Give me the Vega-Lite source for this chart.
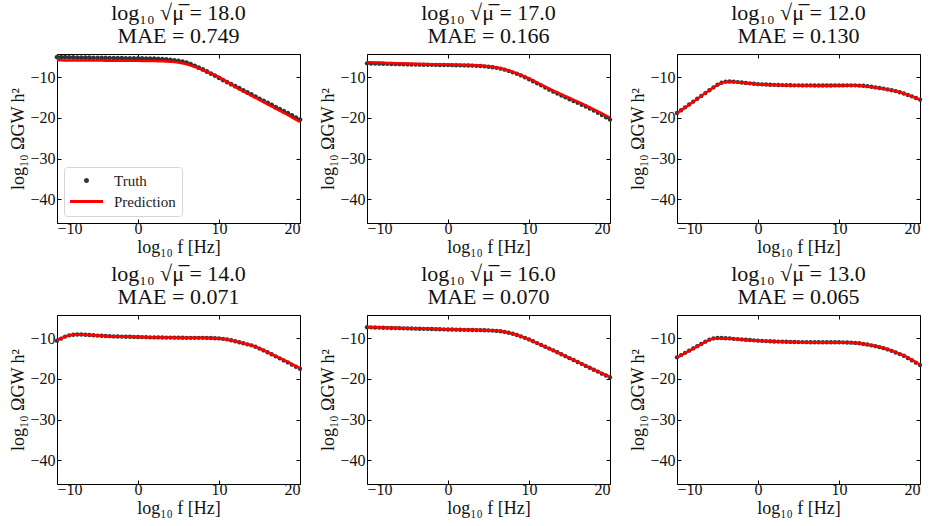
{
  "$schema": "https://vega.github.io/schema/vega-lite/v6.json",
  "background": "white",
  "padding": {"left": 9, "top": 1, "right": 3, "bottom": 5},
  "data": {
    "values": [
      {"p":1,"f":-10,"t":-5.05,"r":-5.85},{"p":1,"f":-9.5,"t":-5.07,"r":-5.86},{"p":1,"f":-9,"t":-5.1,"r":-5.87},{"p":1,"f":-8.5,"t":-5.12,"r":-5.88},{"p":1,"f":-8,"t":-5.15,"r":-5.88},{"p":1,"f":-7.5,"t":-5.17,"r":-5.89},{"p":1,"f":-7,"t":-5.2,"r":-5.9},{"p":1,"f":-6.5,"t":-5.21,"r":-5.9},{"p":1,"f":-6,"t":-5.22,"r":-5.91},{"p":1,"f":-5.5,"t":-5.24,"r":-5.91},{"p":1,"f":-5,"t":-5.25,"r":-5.92},{"p":1,"f":-4.5,"t":-5.27,"r":-5.92},{"p":1,"f":-4,"t":-5.28,"r":-5.93},{"p":1,"f":-3.5,"t":-5.29,"r":-5.93},{"p":1,"f":-3,"t":-5.3,"r":-5.94},{"p":1,"f":-2.5,"t":-5.32,"r":-5.94},{"p":1,"f":-2,"t":-5.33,"r":-5.95},{"p":1,"f":-1.5,"t":-5.35,"r":-5.95},{"p":1,"f":-1,"t":-5.36,"r":-5.96},{"p":1,"f":-0.5,"t":-5.38,"r":-5.97},{"p":1,"f":0,"t":-5.4,"r":-5.98},{"p":1,"f":0.5,"t":-5.41,"r":-5.99},{"p":1,"f":1,"t":-5.43,"r":-6.0},{"p":1,"f":1.5,"t":-5.45,"r":-6.01},{"p":1,"f":2,"t":-5.47,"r":-6.03},{"p":1,"f":2.5,"t":-5.51,"r":-6.05},{"p":1,"f":3,"t":-5.55,"r":-6.08},{"p":1,"f":3.5,"t":-5.62,"r":-6.12},{"p":1,"f":4,"t":-5.72,"r":-6.18},{"p":1,"f":4.5,"t":-5.85,"r":-6.27},{"p":1,"f":5,"t":-6.0,"r":-6.4},{"p":1,"f":5.5,"t":-6.2,"r":-6.57},{"p":1,"f":6,"t":-6.45,"r":-6.8},{"p":1,"f":6.5,"t":-6.8,"r":-7.1},{"p":1,"f":7,"t":-7.2,"r":-7.45},{"p":1,"f":7.5,"t":-7.65,"r":-7.85},{"p":1,"f":8,"t":-8.1,"r":-8.25},{"p":1,"f":8.5,"t":-8.6,"r":-8.65},{"p":1,"f":9,"t":-9.1,"r":-9.05},{"p":1,"f":9.5,"t":-9.6,"r":-9.5},{"p":1,"f":10,"t":-10.15,"r":-10.0},{"p":1,"f":10.5,"t":-10.7,"r":-10.55},{"p":1,"f":11,"t":-11.2,"r":-11.15},{"p":1,"f":11.5,"t":-11.7,"r":-11.75},{"p":1,"f":12,"t":-12.2,"r":-12.35},{"p":1,"f":12.5,"t":-12.7,"r":-12.95},{"p":1,"f":13,"t":-13.25,"r":-13.5},{"p":1,"f":13.5,"t":-13.75,"r":-14.0},{"p":1,"f":14,"t":-14.25,"r":-14.55},{"p":1,"f":14.5,"t":-14.75,"r":-15.05},{"p":1,"f":15,"t":-15.3,"r":-15.6},{"p":1,"f":15.5,"t":-15.8,"r":-16.1},{"p":1,"f":16,"t":-16.3,"r":-16.65},{"p":1,"f":16.5,"t":-16.8,"r":-17.15},{"p":1,"f":17,"t":-17.35,"r":-17.7},{"p":1,"f":17.5,"t":-17.85,"r":-18.2},{"p":1,"f":18,"t":-18.35,"r":-18.75},{"p":1,"f":18.5,"t":-18.85,"r":-19.25},{"p":1,"f":19,"t":-19.4,"r":-19.85},{"p":1,"f":19.5,"t":-19.9,"r":-20.4},{"p":1,"f":20,"t":-20.4,"r":-20.95},

      {"p":2,"f":-10,"t":-6.6,"r":-6.3},{"p":2,"f":-9.5,"t":-6.62,"r":-6.33},{"p":2,"f":-9,"t":-6.65,"r":-6.37},{"p":2,"f":-8.5,"t":-6.67,"r":-6.41},{"p":2,"f":-8,"t":-6.7,"r":-6.45},{"p":2,"f":-7.5,"t":-6.72,"r":-6.49},{"p":2,"f":-7,"t":-6.75,"r":-6.52},{"p":2,"f":-6.5,"t":-6.77,"r":-6.56},{"p":2,"f":-6,"t":-6.8,"r":-6.6},{"p":2,"f":-5.5,"t":-6.82,"r":-6.63},{"p":2,"f":-5,"t":-6.85,"r":-6.66},{"p":2,"f":-4.5,"t":-6.87,"r":-6.69},{"p":2,"f":-4,"t":-6.9,"r":-6.72},{"p":2,"f":-3.5,"t":-6.91,"r":-6.75},{"p":2,"f":-3,"t":-6.93,"r":-6.77},{"p":2,"f":-2.5,"t":-6.95,"r":-6.8},{"p":2,"f":-2,"t":-6.97,"r":-6.82},{"p":2,"f":-1.5,"t":-6.98,"r":-6.84},{"p":2,"f":-1,"t":-7.0,"r":-6.86},{"p":2,"f":-0.5,"t":-7.01,"r":-6.88},{"p":2,"f":0,"t":-7.03,"r":-6.9},{"p":2,"f":0.5,"t":-7.04,"r":-6.92},{"p":2,"f":1,"t":-7.06,"r":-6.94},{"p":2,"f":1.5,"t":-7.08,"r":-6.96},{"p":2,"f":2,"t":-7.1,"r":-6.98},{"p":2,"f":2.5,"t":-7.12,"r":-7.0},{"p":2,"f":3,"t":-7.15,"r":-7.03},{"p":2,"f":3.5,"t":-7.2,"r":-7.08},{"p":2,"f":4,"t":-7.25,"r":-7.14},{"p":2,"f":4.5,"t":-7.33,"r":-7.22},{"p":2,"f":5,"t":-7.42,"r":-7.32},{"p":2,"f":5.5,"t":-7.55,"r":-7.45},{"p":2,"f":6,"t":-7.7,"r":-7.6},{"p":2,"f":6.5,"t":-7.9,"r":-7.8},{"p":2,"f":7,"t":-8.15,"r":-8.05},{"p":2,"f":7.5,"t":-8.45,"r":-8.35},{"p":2,"f":8,"t":-8.8,"r":-8.7},{"p":2,"f":8.5,"t":-9.15,"r":-9.05},{"p":2,"f":9,"t":-9.55,"r":-9.45},{"p":2,"f":9.5,"t":-10.0,"r":-9.85},{"p":2,"f":10,"t":-10.5,"r":-10.3},{"p":2,"f":10.5,"t":-11.0,"r":-10.8},{"p":2,"f":11,"t":-11.5,"r":-11.3},{"p":2,"f":11.5,"t":-12.0,"r":-11.8},{"p":2,"f":12,"t":-12.55,"r":-12.3},{"p":2,"f":12.5,"t":-13.05,"r":-12.8},{"p":2,"f":13,"t":-13.55,"r":-13.3},{"p":2,"f":13.5,"t":-14.0,"r":-13.75},{"p":2,"f":14,"t":-14.5,"r":-14.2},{"p":2,"f":14.5,"t":-14.95,"r":-14.65},{"p":2,"f":15,"t":-15.4,"r":-15.1},{"p":2,"f":15.5,"t":-15.85,"r":-15.55},{"p":2,"f":16,"t":-16.3,"r":-16.0},{"p":2,"f":16.5,"t":-16.75,"r":-16.45},{"p":2,"f":17,"t":-17.2,"r":-16.9},{"p":2,"f":17.5,"t":-17.7,"r":-17.4},{"p":2,"f":18,"t":-18.2,"r":-17.9},{"p":2,"f":18.5,"t":-18.75,"r":-18.4},{"p":2,"f":19,"t":-19.3,"r":-18.9},{"p":2,"f":19.5,"t":-19.85,"r":-19.4},{"p":2,"f":20,"t":-20.4,"r":-19.9},

      {"p":3,"f":-10,"t":-18.8,"r":-18.85},{"p":3,"f":-9.5,"t":-18.1,"r":-18.15},{"p":3,"f":-9,"t":-17.4,"r":-17.45},{"p":3,"f":-8.5,"t":-16.7,"r":-16.75},{"p":3,"f":-8,"t":-16.0,"r":-16.05},{"p":3,"f":-7.5,"t":-15.3,"r":-15.35},{"p":3,"f":-7,"t":-14.6,"r":-14.6},{"p":3,"f":-6.5,"t":-13.9,"r":-13.9},{"p":3,"f":-6,"t":-13.2,"r":-13.2},{"p":3,"f":-5.5,"t":-12.5,"r":-12.5},{"p":3,"f":-5,"t":-11.85,"r":-11.85},{"p":3,"f":-4.5,"t":-11.35,"r":-11.4},{"p":3,"f":-4,"t":-11.1,"r":-11.15},{"p":3,"f":-3.5,"t":-11.05,"r":-11.1},{"p":3,"f":-3,"t":-11.1,"r":-11.15},{"p":3,"f":-2.5,"t":-11.2,"r":-11.25},{"p":3,"f":-2,"t":-11.3,"r":-11.35},{"p":3,"f":-1.5,"t":-11.4,"r":-11.45},{"p":3,"f":-1,"t":-11.5,"r":-11.55},{"p":3,"f":-0.5,"t":-11.6,"r":-11.65},{"p":3,"f":0,"t":-11.7,"r":-11.75},{"p":3,"f":0.5,"t":-11.75,"r":-11.8},{"p":3,"f":1,"t":-11.8,"r":-11.85},{"p":3,"f":1.5,"t":-11.84,"r":-11.9},{"p":3,"f":2,"t":-11.87,"r":-11.93},{"p":3,"f":2.5,"t":-11.9,"r":-11.96},{"p":3,"f":3,"t":-11.93,"r":-11.98},{"p":3,"f":3.5,"t":-11.95,"r":-12.0},{"p":3,"f":4,"t":-11.98,"r":-12.02},{"p":3,"f":4.5,"t":-11.99,"r":-12.04},{"p":3,"f":5,"t":-12.0,"r":-12.05},{"p":3,"f":5.5,"t":-12.01,"r":-12.06},{"p":3,"f":6,"t":-12.02,"r":-12.07},{"p":3,"f":6.5,"t":-12.02,"r":-12.08},{"p":3,"f":7,"t":-12.03,"r":-12.08},{"p":3,"f":7.5,"t":-12.03,"r":-12.08},{"p":3,"f":8,"t":-12.03,"r":-12.08},{"p":3,"f":8.5,"t":-12.03,"r":-12.08},{"p":3,"f":9,"t":-12.03,"r":-12.08},{"p":3,"f":9.5,"t":-12.02,"r":-12.07},{"p":3,"f":10,"t":-12.02,"r":-12.06},{"p":3,"f":10.5,"t":-12.01,"r":-12.05},{"p":3,"f":11,"t":-12.0,"r":-12.04},{"p":3,"f":11.5,"t":-12.0,"r":-12.04},{"p":3,"f":12,"t":-12.0,"r":-12.05},{"p":3,"f":12.5,"t":-12.05,"r":-12.1},{"p":3,"f":13,"t":-12.1,"r":-12.15},{"p":3,"f":13.5,"t":-12.2,"r":-12.25},{"p":3,"f":14,"t":-12.35,"r":-12.4},{"p":3,"f":14.5,"t":-12.5,"r":-12.55},{"p":3,"f":15,"t":-12.65,"r":-12.7},{"p":3,"f":15.5,"t":-12.8,"r":-12.85},{"p":3,"f":16,"t":-13.0,"r":-13.05},{"p":3,"f":16.5,"t":-13.2,"r":-13.25},{"p":3,"f":17,"t":-13.4,"r":-13.45},{"p":3,"f":17.5,"t":-13.7,"r":-13.7},{"p":3,"f":18,"t":-14.0,"r":-14.0},{"p":3,"f":18.5,"t":-14.35,"r":-14.35},{"p":3,"f":19,"t":-14.7,"r":-14.7},{"p":3,"f":19.5,"t":-15.1,"r":-15.1},{"p":3,"f":20,"t":-15.5,"r":-15.5},

      {"p":4,"f":-10,"t":-10.6,"r":-10.5},{"p":4,"f":-9.5,"t":-10.1,"r":-10.05},{"p":4,"f":-9,"t":-9.6,"r":-9.6},{"p":4,"f":-8.5,"t":-9.3,"r":-9.3},{"p":4,"f":-8,"t":-9.15,"r":-9.15},{"p":4,"f":-7.5,"t":-9.1,"r":-9.1},{"p":4,"f":-7,"t":-9.1,"r":-9.1},{"p":4,"f":-6.5,"t":-9.15,"r":-9.15},{"p":4,"f":-6,"t":-9.2,"r":-9.2},{"p":4,"f":-5.5,"t":-9.27,"r":-9.28},{"p":4,"f":-5,"t":-9.35,"r":-9.35},{"p":4,"f":-4.5,"t":-9.4,"r":-9.4},{"p":4,"f":-4,"t":-9.45,"r":-9.45},{"p":4,"f":-3.5,"t":-9.5,"r":-9.5},{"p":4,"f":-3,"t":-9.55,"r":-9.55},{"p":4,"f":-2.5,"t":-9.58,"r":-9.58},{"p":4,"f":-2,"t":-9.6,"r":-9.6},{"p":4,"f":-1.5,"t":-9.63,"r":-9.63},{"p":4,"f":-1,"t":-9.65,"r":-9.65},{"p":4,"f":-0.5,"t":-9.68,"r":-9.68},{"p":4,"f":0,"t":-9.7,"r":-9.7},{"p":4,"f":0.5,"t":-9.73,"r":-9.73},{"p":4,"f":1,"t":-9.75,"r":-9.75},{"p":4,"f":1.5,"t":-9.78,"r":-9.78},{"p":4,"f":2,"t":-9.8,"r":-9.8},{"p":4,"f":2.5,"t":-9.81,"r":-9.81},{"p":4,"f":3,"t":-9.82,"r":-9.82},{"p":4,"f":3.5,"t":-9.84,"r":-9.84},{"p":4,"f":4,"t":-9.85,"r":-9.85},{"p":4,"f":4.5,"t":-9.86,"r":-9.86},{"p":4,"f":5,"t":-9.87,"r":-9.87},{"p":4,"f":5.5,"t":-9.88,"r":-9.88},{"p":4,"f":6,"t":-9.9,"r":-9.9},{"p":4,"f":6.5,"t":-9.9,"r":-9.9},{"p":4,"f":7,"t":-9.9,"r":-9.9},{"p":4,"f":7.5,"t":-9.9,"r":-9.9},{"p":4,"f":8,"t":-9.9,"r":-9.9},{"p":4,"f":8.5,"t":-9.92,"r":-9.92},{"p":4,"f":9,"t":-9.95,"r":-9.95},{"p":4,"f":9.5,"t":-10.0,"r":-10.0},{"p":4,"f":10,"t":-10.05,"r":-10.05},{"p":4,"f":10.5,"t":-10.15,"r":-10.15},{"p":4,"f":11,"t":-10.3,"r":-10.3},{"p":4,"f":11.5,"t":-10.5,"r":-10.5},{"p":4,"f":12,"t":-10.75,"r":-10.72},{"p":4,"f":12.5,"t":-11.0,"r":-10.97},{"p":4,"f":13,"t":-11.25,"r":-11.22},{"p":4,"f":13.5,"t":-11.5,"r":-11.48},{"p":4,"f":14,"t":-11.75,"r":-11.72},{"p":4,"f":14.5,"t":-12.1,"r":-12.06},{"p":4,"f":15,"t":-12.55,"r":-12.5},{"p":4,"f":15.5,"t":-13.0,"r":-12.95},{"p":4,"f":16,"t":-13.45,"r":-13.4},{"p":4,"f":16.5,"t":-13.95,"r":-13.88},{"p":4,"f":17,"t":-14.45,"r":-14.37},{"p":4,"f":17.5,"t":-14.95,"r":-14.86},{"p":4,"f":18,"t":-15.45,"r":-15.35},{"p":4,"f":18.5,"t":-15.95,"r":-15.84},{"p":4,"f":19,"t":-16.5,"r":-16.35},{"p":4,"f":19.5,"t":-17.0,"r":-16.85},{"p":4,"f":20,"t":-17.5,"r":-17.35},

      {"p":5,"f":-10,"t":-7.3,"r":-7.25},{"p":5,"f":-9.5,"t":-7.33,"r":-7.28},{"p":5,"f":-9,"t":-7.36,"r":-7.31},{"p":5,"f":-8.5,"t":-7.39,"r":-7.34},{"p":5,"f":-8,"t":-7.42,"r":-7.37},{"p":5,"f":-7.5,"t":-7.45,"r":-7.4},{"p":5,"f":-7,"t":-7.48,"r":-7.43},{"p":5,"f":-6.5,"t":-7.51,"r":-7.46},{"p":5,"f":-6,"t":-7.54,"r":-7.49},{"p":5,"f":-5.5,"t":-7.57,"r":-7.52},{"p":5,"f":-5,"t":-7.6,"r":-7.55},{"p":5,"f":-4.5,"t":-7.62,"r":-7.57},{"p":5,"f":-4,"t":-7.65,"r":-7.6},{"p":5,"f":-3.5,"t":-7.67,"r":-7.62},{"p":5,"f":-3,"t":-7.7,"r":-7.65},{"p":5,"f":-2.5,"t":-7.72,"r":-7.67},{"p":5,"f":-2,"t":-7.75,"r":-7.7},{"p":5,"f":-1.5,"t":-7.77,"r":-7.72},{"p":5,"f":-1,"t":-7.8,"r":-7.75},{"p":5,"f":-0.5,"t":-7.82,"r":-7.77},{"p":5,"f":0,"t":-7.85,"r":-7.8},{"p":5,"f":0.5,"t":-7.87,"r":-7.82},{"p":5,"f":1,"t":-7.9,"r":-7.85},{"p":5,"f":1.5,"t":-7.92,"r":-7.87},{"p":5,"f":2,"t":-7.94,"r":-7.89},{"p":5,"f":2.5,"t":-7.96,"r":-7.91},{"p":5,"f":3,"t":-7.98,"r":-7.93},{"p":5,"f":3.5,"t":-8.0,"r":-7.95},{"p":5,"f":4,"t":-8.02,"r":-7.97},{"p":5,"f":4.5,"t":-8.05,"r":-8.0},{"p":5,"f":5,"t":-8.08,"r":-8.03},{"p":5,"f":5.5,"t":-8.13,"r":-8.08},{"p":5,"f":6,"t":-8.2,"r":-8.15},{"p":5,"f":6.5,"t":-8.3,"r":-8.26},{"p":5,"f":7,"t":-8.45,"r":-8.42},{"p":5,"f":7.5,"t":-8.65,"r":-8.63},{"p":5,"f":8,"t":-8.9,"r":-8.9},{"p":5,"f":8.5,"t":-9.2,"r":-9.2},{"p":5,"f":9,"t":-9.55,"r":-9.55},{"p":5,"f":9.5,"t":-9.9,"r":-9.9},{"p":5,"f":10,"t":-10.3,"r":-10.3},{"p":5,"f":10.5,"t":-10.75,"r":-10.75},{"p":5,"f":11,"t":-11.2,"r":-11.2},{"p":5,"f":11.5,"t":-11.65,"r":-11.65},{"p":5,"f":12,"t":-12.1,"r":-12.1},{"p":5,"f":12.5,"t":-12.55,"r":-12.55},{"p":5,"f":13,"t":-13.0,"r":-13.0},{"p":5,"f":13.5,"t":-13.45,"r":-13.45},{"p":5,"f":14,"t":-13.95,"r":-13.93},{"p":5,"f":14.5,"t":-14.4,"r":-14.38},{"p":5,"f":15,"t":-14.9,"r":-14.87},{"p":5,"f":15.5,"t":-15.35,"r":-15.32},{"p":5,"f":16,"t":-15.85,"r":-15.81},{"p":5,"f":16.5,"t":-16.3,"r":-16.26},{"p":5,"f":17,"t":-16.8,"r":-16.75},{"p":5,"f":17.5,"t":-17.25,"r":-17.2},{"p":5,"f":18,"t":-17.75,"r":-17.69},{"p":5,"f":18.5,"t":-18.2,"r":-18.14},{"p":5,"f":19,"t":-18.7,"r":-18.63},{"p":5,"f":19.5,"t":-19.15,"r":-19.08},{"p":5,"f":20,"t":-19.6,"r":-19.52},

      {"p":6,"f":-10,"t":-14.7,"r":-14.75},{"p":6,"f":-9.5,"t":-14.15,"r":-14.2},{"p":6,"f":-9,"t":-13.6,"r":-13.65},{"p":6,"f":-8.5,"t":-13.05,"r":-13.1},{"p":6,"f":-8,"t":-12.5,"r":-12.55},{"p":6,"f":-7.5,"t":-11.95,"r":-12.0},{"p":6,"f":-7,"t":-11.4,"r":-11.45},{"p":6,"f":-6.5,"t":-10.85,"r":-10.9},{"p":6,"f":-6,"t":-10.35,"r":-10.4},{"p":6,"f":-5.5,"t":-10.05,"r":-10.1},{"p":6,"f":-5,"t":-9.95,"r":-10.0},{"p":6,"f":-4.5,"t":-9.95,"r":-10.0},{"p":6,"f":-4,"t":-10.0,"r":-10.05},{"p":6,"f":-3.5,"t":-10.05,"r":-10.1},{"p":6,"f":-3,"t":-10.15,"r":-10.18},{"p":6,"f":-2.5,"t":-10.22,"r":-10.25},{"p":6,"f":-2,"t":-10.3,"r":-10.33},{"p":6,"f":-1.5,"t":-10.38,"r":-10.41},{"p":6,"f":-1,"t":-10.45,"r":-10.48},{"p":6,"f":-0.5,"t":-10.52,"r":-10.55},{"p":6,"f":0,"t":-10.6,"r":-10.62},{"p":6,"f":0.5,"t":-10.65,"r":-10.67},{"p":6,"f":1,"t":-10.7,"r":-10.72},{"p":6,"f":1.5,"t":-10.75,"r":-10.77},{"p":6,"f":2,"t":-10.8,"r":-10.82},{"p":6,"f":2.5,"t":-10.83,"r":-10.85},{"p":6,"f":3,"t":-10.85,"r":-10.87},{"p":6,"f":3.5,"t":-10.88,"r":-10.9},{"p":6,"f":4,"t":-10.9,"r":-10.92},{"p":6,"f":4.5,"t":-10.92,"r":-10.94},{"p":6,"f":5,"t":-10.95,"r":-10.96},{"p":6,"f":5.5,"t":-10.96,"r":-10.97},{"p":6,"f":6,"t":-10.97,"r":-10.98},{"p":6,"f":6.5,"t":-10.98,"r":-10.99},{"p":6,"f":7,"t":-11.0,"r":-11.0},{"p":6,"f":7.5,"t":-11.0,"r":-11.0},{"p":6,"f":8,"t":-11.0,"r":-11.0},{"p":6,"f":8.5,"t":-11.0,"r":-11.0},{"p":6,"f":9,"t":-11.0,"r":-11.0},{"p":6,"f":9.5,"t":-11.0,"r":-11.0},{"p":6,"f":10,"t":-11.0,"r":-11.0},{"p":6,"f":10.5,"t":-11.02,"r":-11.02},{"p":6,"f":11,"t":-11.05,"r":-11.05},{"p":6,"f":11.5,"t":-11.1,"r":-11.1},{"p":6,"f":12,"t":-11.15,"r":-11.15},{"p":6,"f":12.5,"t":-11.25,"r":-11.25},{"p":6,"f":13,"t":-11.4,"r":-11.38},{"p":6,"f":13.5,"t":-11.55,"r":-11.53},{"p":6,"f":14,"t":-11.75,"r":-11.72},{"p":6,"f":14.5,"t":-11.95,"r":-11.92},{"p":6,"f":15,"t":-12.2,"r":-12.16},{"p":6,"f":15.5,"t":-12.45,"r":-12.41},{"p":6,"f":16,"t":-12.75,"r":-12.7},{"p":6,"f":16.5,"t":-13.1,"r":-13.04},{"p":6,"f":17,"t":-13.5,"r":-13.43},{"p":6,"f":17.5,"t":-13.9,"r":-13.83},{"p":6,"f":18,"t":-14.3,"r":-14.22},{"p":6,"f":18.5,"t":-14.85,"r":-14.76},{"p":6,"f":19,"t":-15.4,"r":-15.3},{"p":6,"f":19.5,"t":-16.0,"r":-15.9},{"p":6,"f":20,"t":-16.6,"r":-16.5}
    ]
  },
  "columns": 3,
  "bounds": "flush",
  "spacing": {"column": 67, "row": 92},
  "concat": [
    {
      "title": {"text": ["log₁₀ √μ̅ = 18.0", "MAE = 0.749"]},
      "width": 243, "height": 169,
      "transform": [{"filter": "datum.p == 1"}],
      "layer": [
        {
          "mark": {"type": "point", "filled": true, "size": 711, "opacity": 1},
          "encoding": {
            "x": {"field": "f", "type": "quantitative", "scale": {"domain": [-10, 20], "nice": false, "zero": false}, "axis": {"orient": "bottom", "values": [-10, 0, 10, 20], "title": "log₁₀ f [Hz]"}},
            "y": {"field": "t", "type": "quantitative", "scale": {"domain": [-45.8, -4.3], "nice": false, "zero": false}, "axis": {"orient": "left", "values": [-40, -30, -20, -10], "title": "log₁₀ ΩGW h²"}},
            "shape": {
              "datum": "Truth",
              "scale": {"domain": ["Truth", "Prediction"], "range": ["M-0.18,0A0.18,0.18 0 1,0 0.18,0A0.18,0.18 0 1,0 -0.18,0Z", "M-3,0H3"]},
              "legend": null
            },
            "color": {
              "datum": "Truth",
              "scale": {"domain": ["Truth", "Prediction"], "range": ["#333333", "#ff0000"]},
              "legend": {
                "title": null, "orient": "bottom-left", "offset": 7, "padding": 6,
                "strokeColor": "#d6d6d6", "cornerRadius": 3, "fillColor": "white",
                "labelFontSize": 15, "labelFont": "Liberation Serif", "labelColor": "#222222",
                "symbolSize": 121, "symbolStrokeWidth": 3, "symbolOffset": 9,
                "labelOffset": 20, "rowPadding": 5
              }
            }
          }
        },
        {
          "mark": {"type": "line", "strokeWidth": 2.5},
          "encoding": {
            "x": {"field": "f", "type": "quantitative", "axis": {"orient": "top", "values": [-10, 0, 10, 20], "labels": false, "title": null}},
            "y": {"field": "r", "type": "quantitative", "axis": {"orient": "right", "values": [-40, -30, -20, -10], "labels": false, "title": null}},
            "color": {"datum": "Prediction"}
          }
        }
      ],
      "resolve": {"axis": {"x": "independent", "y": "independent"}}
    },
    {
      "title": {"text": ["log₁₀ √μ̅ = 17.0", "MAE = 0.166"]},
      "width": 243, "height": 169,
      "transform": [{"filter": "datum.p == 2"}],
      "layer": [
        {
          "mark": {"type": "point", "filled": true, "size": 19, "opacity": 1, "color": "#333333"},
          "encoding": {
            "x": {"field": "f", "type": "quantitative", "scale": {"domain": [-10, 20], "nice": false, "zero": false}, "axis": {"orient": "bottom", "values": [-10, 0, 10, 20], "title": "log₁₀ f [Hz]"}},
            "y": {"field": "t", "type": "quantitative", "scale": {"domain": [-45.8, -4.3], "nice": false, "zero": false}, "axis": {"orient": "left", "values": [-40, -30, -20, -10], "title": "log₁₀ ΩGW h²"}}
          }
        },
        {
          "mark": {"type": "line", "strokeWidth": 2.5, "color": "#ff0000"},
          "encoding": {
            "x": {"field": "f", "type": "quantitative", "axis": {"orient": "top", "values": [-10, 0, 10, 20], "labels": false, "title": null}},
            "y": {"field": "r", "type": "quantitative", "axis": {"orient": "right", "values": [-40, -30, -20, -10], "labels": false, "title": null}}
          }
        }
      ],
      "resolve": {"axis": {"x": "independent", "y": "independent"}}
    },
    {
      "title": {"text": ["log₁₀ √μ̅ = 12.0", "MAE = 0.130"]},
      "width": 243, "height": 169,
      "transform": [{"filter": "datum.p == 3"}],
      "layer": [
        {
          "mark": {"type": "point", "filled": true, "size": 19, "opacity": 1, "color": "#333333"},
          "encoding": {
            "x": {"field": "f", "type": "quantitative", "scale": {"domain": [-10, 20], "nice": false, "zero": false}, "axis": {"orient": "bottom", "values": [-10, 0, 10, 20], "title": "log₁₀ f [Hz]"}},
            "y": {"field": "t", "type": "quantitative", "scale": {"domain": [-45.8, -4.3], "nice": false, "zero": false}, "axis": {"orient": "left", "values": [-40, -30, -20, -10], "title": "log₁₀ ΩGW h²"}}
          }
        },
        {
          "mark": {"type": "line", "strokeWidth": 2.5, "color": "#ff0000"},
          "encoding": {
            "x": {"field": "f", "type": "quantitative", "axis": {"orient": "top", "values": [-10, 0, 10, 20], "labels": false, "title": null}},
            "y": {"field": "r", "type": "quantitative", "axis": {"orient": "right", "values": [-40, -30, -20, -10], "labels": false, "title": null}}
          }
        }
      ],
      "resolve": {"axis": {"x": "independent", "y": "independent"}}
    },
    {
      "title": {"text": ["log₁₀ √μ̅ = 14.0", "MAE = 0.071"]},
      "width": 243, "height": 169,
      "transform": [{"filter": "datum.p == 4"}],
      "layer": [
        {
          "mark": {"type": "point", "filled": true, "size": 19, "opacity": 1, "color": "#333333"},
          "encoding": {
            "x": {"field": "f", "type": "quantitative", "scale": {"domain": [-10, 20], "nice": false, "zero": false}, "axis": {"orient": "bottom", "values": [-10, 0, 10, 20], "title": "log₁₀ f [Hz]"}},
            "y": {"field": "t", "type": "quantitative", "scale": {"domain": [-45.8, -4.3], "nice": false, "zero": false}, "axis": {"orient": "left", "values": [-40, -30, -20, -10], "title": "log₁₀ ΩGW h²"}}
          }
        },
        {
          "mark": {"type": "line", "strokeWidth": 2.5, "color": "#ff0000"},
          "encoding": {
            "x": {"field": "f", "type": "quantitative", "axis": {"orient": "top", "values": [-10, 0, 10, 20], "labels": false, "title": null}},
            "y": {"field": "r", "type": "quantitative", "axis": {"orient": "right", "values": [-40, -30, -20, -10], "labels": false, "title": null}}
          }
        }
      ],
      "resolve": {"axis": {"x": "independent", "y": "independent"}}
    },
    {
      "title": {"text": ["log₁₀ √μ̅ = 16.0", "MAE = 0.070"]},
      "width": 243, "height": 169,
      "transform": [{"filter": "datum.p == 5"}],
      "layer": [
        {
          "mark": {"type": "point", "filled": true, "size": 19, "opacity": 1, "color": "#333333"},
          "encoding": {
            "x": {"field": "f", "type": "quantitative", "scale": {"domain": [-10, 20], "nice": false, "zero": false}, "axis": {"orient": "bottom", "values": [-10, 0, 10, 20], "title": "log₁₀ f [Hz]"}},
            "y": {"field": "t", "type": "quantitative", "scale": {"domain": [-45.8, -4.3], "nice": false, "zero": false}, "axis": {"orient": "left", "values": [-40, -30, -20, -10], "title": "log₁₀ ΩGW h²"}}
          }
        },
        {
          "mark": {"type": "line", "strokeWidth": 2.5, "color": "#ff0000"},
          "encoding": {
            "x": {"field": "f", "type": "quantitative", "axis": {"orient": "top", "values": [-10, 0, 10, 20], "labels": false, "title": null}},
            "y": {"field": "r", "type": "quantitative", "axis": {"orient": "right", "values": [-40, -30, -20, -10], "labels": false, "title": null}}
          }
        }
      ],
      "resolve": {"axis": {"x": "independent", "y": "independent"}}
    },
    {
      "title": {"text": ["log₁₀ √μ̅ = 13.0", "MAE = 0.065"]},
      "width": 243, "height": 169,
      "transform": [{"filter": "datum.p == 6"}],
      "layer": [
        {
          "mark": {"type": "point", "filled": true, "size": 19, "opacity": 1, "color": "#333333"},
          "encoding": {
            "x": {"field": "f", "type": "quantitative", "scale": {"domain": [-10, 20], "nice": false, "zero": false}, "axis": {"orient": "bottom", "values": [-10, 0, 10, 20], "title": "log₁₀ f [Hz]"}},
            "y": {"field": "t", "type": "quantitative", "scale": {"domain": [-45.8, -4.3], "nice": false, "zero": false}, "axis": {"orient": "left", "values": [-40, -30, -20, -10], "title": "log₁₀ ΩGW h²"}}
          }
        },
        {
          "mark": {"type": "line", "strokeWidth": 2.5, "color": "#ff0000"},
          "encoding": {
            "x": {"field": "f", "type": "quantitative", "axis": {"orient": "top", "values": [-10, 0, 10, 20], "labels": false, "title": null}},
            "y": {"field": "r", "type": "quantitative", "axis": {"orient": "right", "values": [-40, -30, -20, -10], "labels": false, "title": null}}
          }
        }
      ],
      "resolve": {"axis": {"x": "independent", "y": "independent"}}
    }
  ],
  "resolve": {"scale": {"color": "independent", "shape": "independent"}, "legend": {"color": "independent", "shape": "independent"}},
  "config": {
    "font": "Liberation Serif",
    "view": {"stroke": "#000000", "strokeWidth": 1},
    "axis": {
      "domain": false, "grid": false,
      "tickSize": -4, "tickColor": "#000000", "tickWidth": 1,
      "labelFont": "Liberation Serif", "labelFontSize": 16, "labelColor": "#111111",
      "titleFont": "Liberation Serif", "titleFontSize": 18, "titleFontWeight": "normal", "titleColor": "#111111", "titlePadding": 2
    },
    "axisX": {"labelPadding": 1},
    "axisY": {"labelPadding": 6},
    "title": {
      "font": "Liberation Serif", "fontSize": 22, "fontWeight": "normal", "color": "#111111",
      "anchor": "middle", "offset": 6, "lineHeight": 23
    }
  }
}
